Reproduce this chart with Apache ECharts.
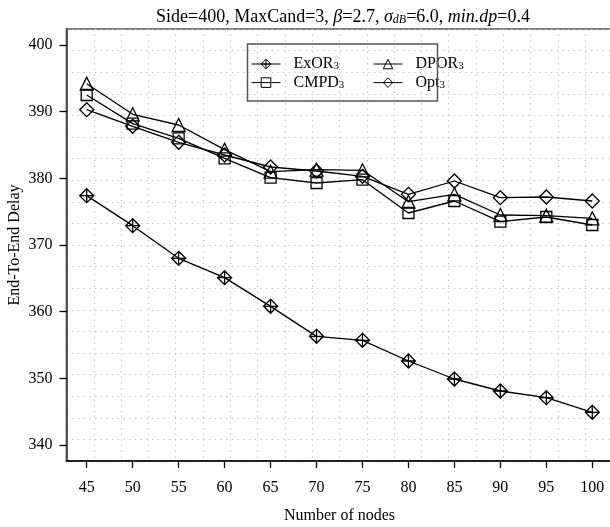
<!DOCTYPE html>
<html><head><meta charset="utf-8">
<script src="https://cdn.jsdelivr.net/npm/echarts@6/dist/echarts.min.js"></script>
<style>html,body{margin:0;padding:0;background:#fff}#c{width:610px;height:527px}</style>
</head><body><div id="c"></div>
<script>
const nodes = [45,50,55,60,65,70,75,80,85,90,95,100];
const exor = [377.4, 372.9, 368.0, 365.1, 360.8, 356.3, 355.7, 352.6, 349.9, 348.1, 347.1, 344.9];
const dpor = [394.2, 389.6, 388.0, 384.3, 381.0, 381.3, 381.2, 376.5, 377.6, 374.5, 374.4, 374.0];
const cmpd = [392.5, 388.2, 386.0, 383.0, 380.1, 379.3, 379.8, 374.8, 376.6, 373.5, 374.2, 373.0];
const opt  = [390.3, 387.8, 385.4, 383.5, 381.7, 381.1, 380.3, 377.6, 379.6, 377.1, 377.2, 376.6];
const yTicks = [340,350,360,370,380,390,400];
const xTicks = [45,50,55,60,65,70,75,80,85,90,95,100];
const seriesNames = ['ExOR','DPOR','CMPD','Opt'];

const FONT = 'Liberation Serif';
const pairs = a => nodes.map((x,i)=>[x,a[i]]);
const hollow = {color:'rgba(0,0,0,0)', borderColor:'#000', borderWidth:1.3};
function mk(name, data, symbol, size){
  return {name, type:'line', data:pairs(data), symbol, symbolSize:size,
    lineStyle:{color:'#000', width:1.3}, itemStyle:hollow, showSymbol:true,
    emphasis:{disabled:true}, animation:false, z:3};
}
const crossDiamond = 'path://M10,0 L20,10 L10,20 L0,10 Z M10,0 L10,20 M0,10 L20,10';
const legRich = {n:{fontFamily:FONT,fontSize:16,lineHeight:16,fontWeight:'normal',color:'#000'}, s:{fontFamily:FONT,fontSize:11,fontWeight:'normal',color:'#000',verticalAlign:'bottom',lineHeight:10,padding:[7,0,0,0]}};
const legFmt = n => '{n|'+n+'}{s|3}';
function leg(names, left){
  return {data:names, orient:'vertical', left, top:54, padding:0, itemWidth:29, itemHeight:12, itemGap:0.6,
    formatter:legFmt, textStyle:{rich:legRich, padding:[0,0,0,8]}, selectedMode:false,
    itemStyle:{borderWidth:1}, lineStyle:{width:1}};
}
const chart = echarts.init(document.getElementById('c'), null, {renderer:'canvas'});
chart.setOption({
  animation:false,
  backgroundColor:'#fff',
  title:{
    text:'{n|Side=400, MaxCand=3, }{i|β}{n|=2.7, }{i|σ}{s|dB}{n|=6.0, }{i|min.dp}{n|=0.4}',
    left:338, textAlign:'center', top:3,
    textStyle:{fontWeight:'normal', rich:{
      n:{fontFamily:FONT,fontSize:18,fontWeight:'normal',color:'#000'},
      i:{fontFamily:FONT,fontSize:18,fontWeight:'normal',fontStyle:'italic',color:'#000'},
      s:{fontFamily:FONT,fontSize:12,fontWeight:'normal',fontStyle:'italic',color:'#000',verticalAlign:'bottom',lineHeight:10,padding:[7,0,0,0]}
    }}
  },
  grid:{left:66.5, top:29, width:546, height:432, outerBoundsMode:'none', containLabel:false, show:true, borderColor:'#808080', borderWidth:2, backgroundColor:'transparent'},
  legend:[ leg(['ExOR','CMPD'], 251), leg(['DPOR','Opt'], 373) ],
  graphic:[{type:'rect', shape:{x:247.5,y:44,width:190,height:57}, style:{fill:'none', stroke:'#555', lineWidth:1.5}, z:10}],
  xAxis:[
    {type:'value', min:42.8, max:102.2, position:'bottom',
     axisLine:{show:true, onZero:false, lineStyle:{color:'#000', width:1.5}},
     axisTick:{show:true, length:7, customValues:xTicks, lineStyle:{color:'#000', width:1.3}},
     axisLabel:{customValues:xTicks, margin:19, fontFamily:FONT, fontSize:16, color:'#000'},
     splitLine:{show:false},
     name:'Number of nodes', nameLocation:'middle', nameGap:47, nameMoveOverlap:false,
     nameTextStyle:{fontFamily:FONT, fontSize:16, color:'#000'}},
    {type:'value', min:0, max:20, interval:1, position:'top',
     axisLine:{show:false}, axisTick:{show:false}, axisLabel:{show:false},
     splitLine:{show:true, lineStyle:{color:'#bdbdbd', width:1.2, type:[1.2,4.5]}}}
  ],
  yAxis:[
    {type:'value', min:337.6, max:402.4, position:'left',
     axisLine:{show:true, onZero:false, lineStyle:{color:'#333', width:1.5}},
     axisTick:{show:true, length:7, customValues:yTicks, lineStyle:{color:'#000', width:1.3}},
     axisLabel:{customValues:yTicks, margin:14, fontFamily:FONT, fontSize:16, color:'#000'},
     splitLine:{show:false},
     name:'End-To-End Delay', nameLocation:'middle', nameGap:44, nameRotate:90, nameMoveOverlap:false,
     nameTextStyle:{fontFamily:FONT, fontSize:16, color:'#000'}},
    {type:'value', min:0, max:20, interval:1, position:'right',
     axisLine:{show:false}, axisTick:{show:false}, axisLabel:{show:false},
     splitLine:{show:true, lineStyle:{color:'#bdbdbd', width:1.2, type:[1.2,4.5]}}}
  ],
  series:[
    mk('ExOR', exor, crossDiamond, 14),
    mk('DPOR', dpor, 'triangle', 13),
    mk('CMPD', cmpd, 'rect', 11),
    mk('Opt', opt, 'diamond', 14)
  ]
});
</script></body></html>
